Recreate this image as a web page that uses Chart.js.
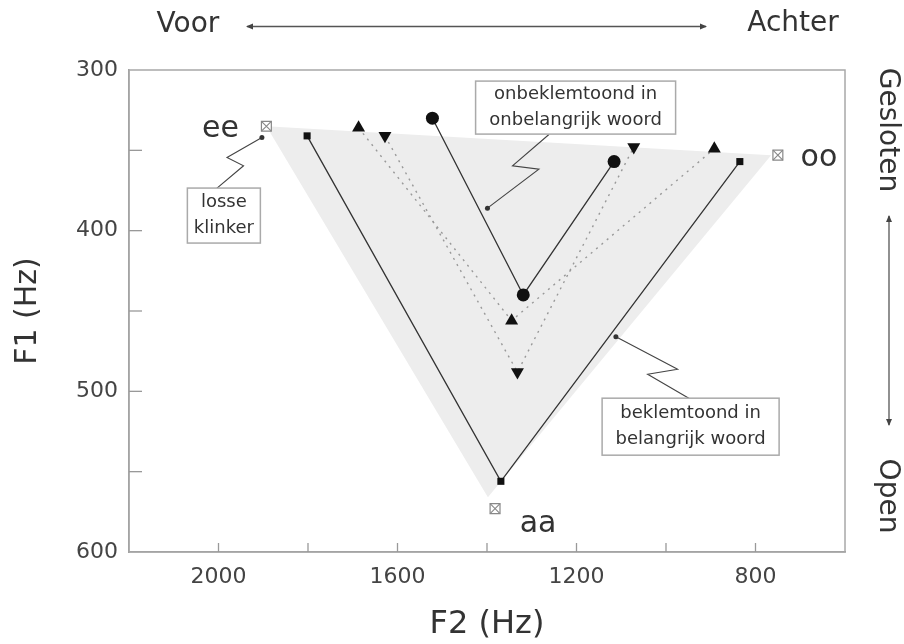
<!DOCTYPE html>
<html><head><meta charset="utf-8">
<script src="https://cdn.jsdelivr.net/npm/chart.js@4/dist/chart.umd.min.js"></script>
<style>html,body{margin:0;padding:0;background:#fff}#wrap{width:904px;height:644px;position:relative}</style>
</head><body><div id="wrap"><canvas id="c"></canvas></div>
<script>
// ---- data (F2 Hz, F1 Hz) in order ee, aa, oo ----
const vowels = ['ee', 'aa', 'oo'];
const f2Beklemtoond = [1802, 1369, 835];     // squares, solid
const f1Beklemtoond = [341, 556, 357];
const f2Onbeklemtoond = [1522, 1319, 1116];  // circles, solid
const f1Onbeklemtoond = [330, 440, 357];
const f2TussenA = [1687, 1345, 892];         // up triangles, dotted
const f1TussenA = [336, 456, 349];
const f2TussenB = [1628, 1332, 1072];        // down triangles, dotted
const f1TussenB = [341, 488, 348];
const f2Losse = [1893, 1382, 750];           // isolated vowels (boxed X)
const f1Losse = [335, 573, 353];
const f2Shade = [1893, 765, 1398];           // grey vowel triangle
const f1Shade = [335, 353, 566];
const xTickLabels = [2000, 1600, 1200, 800];
const yTickLabels = [300, 400, 500, 600];

const pts = (a, b) => a.map((v, i) => ({x: v, y: b[i]}));
const FONT = 'DejaVu Sans';

const callouts = [
  {lines: ['losse', 'klinker'], box: [1988, 390.6], w: 73, h: 55,
   path: [[2004, 373.7], [1944, 359.6], [1981, 354.4], [1903, 342]]},
  {lines: ['onbeklemtoond in', 'onbelangrijk woord'], box: [1202, 323.4], w: 200, h: 53,
   path: [[1261, 340], [1343, 359.6], [1284, 361.7], [1399, 386]]},
  {lines: ['beklemtoond in', 'belangrijk woord'], box: [945, 522], w: 177, h: 57,
   path: [[948, 504.4], [1041, 489.4], [974, 486.3], [1112, 466]]}
];
const vowelLabelOffsets = [[-46, 0], [43, 13], [41, 0]];

function arrowHead(ctx, x, y, ang) {
  ctx.save(); ctx.translate(x, y); ctx.rotate(ang);
  ctx.beginPath(); ctx.moveTo(0, 0); ctx.lineTo(-7, -3); ctx.lineTo(-7, 3); ctx.closePath(); ctx.fill();
  ctx.restore();
}

const deco = {
  id: 'deco',
  afterDraw(chart) {
    const {ctx, chartArea: a, scales: {x, y}} = chart;
    const P = (f2, f1) => [x.getPixelForValue(f2), y.getPixelForValue(f1)];
    ctx.save();
    // frame
    ctx.strokeStyle = '#a8a8a8'; ctx.lineWidth = 1.5;
    ctx.strokeRect(a.left, a.top, a.right - a.left, a.bottom - a.top);
    // inward ticks
    ctx.strokeStyle = '#999'; ctx.lineWidth = 1.3;
    x.ticks.forEach(t => {
      if (t.value === x.min || t.value === x.max) return;
      const px = x.getPixelForValue(t.value);
      ctx.beginPath(); ctx.moveTo(px, a.bottom); ctx.lineTo(px, a.bottom - 9); ctx.stroke();
    });
    y.ticks.forEach(t => {
      if (t.value === y.min || t.value === y.max) return;
      const py = y.getPixelForValue(t.value);
      ctx.beginPath(); ctx.moveTo(a.left, py); ctx.lineTo(a.left + 13, py); ctx.stroke();
    });
    // vowel labels
    ctx.fillStyle = '#333'; ctx.font = '30px "' + FONT + '"';
    ctx.textAlign = 'center'; ctx.textBaseline = 'middle';
    vowels.forEach((v, i) => {
      const [px, py] = P(f2Losse[i], f1Losse[i]);
      ctx.fillText(v, px + vowelLabelOffsets[i][0], py + vowelLabelOffsets[i][1] + 3);
    });
    // callouts
    callouts.forEach(c => {
      ctx.strokeStyle = '#444'; ctx.lineWidth = 1.1; ctx.fillStyle = '#333';
      ctx.beginPath();
      c.path.forEach((p, i) => { const [px, py] = P(p[0], p[1]); i ? ctx.lineTo(px, py) : ctx.moveTo(px, py); });
      ctx.stroke();
      const [ex, ey] = P(c.path[c.path.length - 1][0], c.path[c.path.length - 1][1]);
      ctx.beginPath(); ctx.arc(ex, ey, 2.5, 0, Math.PI * 2); ctx.fill();
      const [bx, by] = P(c.box[0], c.box[1]);
      ctx.fillStyle = '#fff'; ctx.fillRect(bx - c.w / 2, by - c.h / 2, c.w, c.h);
      ctx.strokeStyle = '#aaa'; ctx.lineWidth = 1.5;
      ctx.strokeRect(bx - c.w / 2, by - c.h / 2, c.w, c.h);
      ctx.fillStyle = '#333'; ctx.font = '18px "' + FONT + '"';
      ctx.fillText(c.lines[0], bx, by - 13);
      ctx.fillText(c.lines[1], bx, by + 13);
    });
    // top: Voor <-> Achter
    ctx.fillStyle = '#333'; ctx.strokeStyle = '#555'; ctx.lineWidth = 1.3;
    ctx.font = '28px "' + FONT + '"';
    ctx.fillText('Voor', 188, 25);
    ctx.fillText('Achter', 793, 24);
    ctx.beginPath(); ctx.moveTo(247, 26.5); ctx.lineTo(706, 26.5); ctx.stroke();
    ctx.fillStyle = '#444';
    arrowHead(ctx, 246, 26.5, Math.PI); arrowHead(ctx, 707, 26.5, 0);
    // right: Gesloten <-> Open
    ctx.beginPath(); ctx.moveTo(889, 216); ctx.lineTo(889, 425); ctx.stroke();
    arrowHead(ctx, 889, 215, -Math.PI / 2); arrowHead(ctx, 889, 426, Math.PI / 2);
    ctx.fillStyle = '#333';
    [['Gesloten', 130], ['Open', 496]].forEach(([t, cy]) => {
      ctx.save(); ctx.translate(887, cy); ctx.rotate(Math.PI / 2);
      ctx.fillText(t, 0, 0); ctx.restore();
    });
    ctx.restore();
  }
};

new Chart(document.getElementById('c'), {
  type: 'scatter',
  data: {
    datasets: [
      {label: 'losse klinker x', data: pts(f2Losse, f1Losse), showLine: false,
       pointStyle: 'crossRot', pointRadius: 7, borderColor: '#888', pointBorderColor: '#888', pointBorderWidth: 1.1},
      {label: 'losse klinker', data: pts(f2Losse, f1Losse), showLine: false,
       pointStyle: 'rect', pointRadius: 7, backgroundColor: '#fff', borderColor: '#888', pointBorderColor: '#888', pointBorderWidth: 1.2},
      {label: 'beklemtoond in belangrijk woord', data: pts(f2Beklemtoond, f1Beklemtoond), showLine: true,
       borderColor: '#333', borderWidth: 1.3, pointStyle: 'rect', pointRadius: 5,
       backgroundColor: '#111', pointBorderColor: '#111', pointBorderWidth: 0},
      {label: 'onbeklemtoond in onbelangrijk woord', data: pts(f2Onbeklemtoond, f1Onbeklemtoond), showLine: true,
       borderColor: '#333', borderWidth: 1.3, pointStyle: 'circle', pointRadius: 6.5,
       backgroundColor: '#111', pointBorderColor: '#111', pointBorderWidth: 0},
      {label: 'tussenvorm A', data: pts(f2TussenA, f1TussenA), showLine: true,
       borderColor: '#999', borderWidth: 1.4, borderDash: [2, 5], pointStyle: 'triangle', pointRadius: 7.5,
       backgroundColor: '#111', pointBorderColor: '#111', pointBorderWidth: 0},
      {label: 'tussenvorm B', data: pts(f2TussenB, f1TussenB), showLine: true,
       borderColor: '#999', borderWidth: 1.4, borderDash: [2, 5], pointStyle: 'triangle', pointRotation: 180, pointRadius: 7.5,
       backgroundColor: '#111', pointBorderColor: '#111', pointBorderWidth: 0},
      {label: 'vocaaldriehoek', data: pts(f2Shade, f1Shade).concat(pts(f2Shade, f1Shade).slice(0, 1)),
       showLine: true, fill: 'shape', backgroundColor: '#ededed', borderWidth: 0, pointRadius: 0, order: 10}
    ]
  },
  options: {
    responsive: true, maintainAspectRatio: false, animation: false, events: [],
    layout: {padding: {top: 70, right: 59, bottom: 0, left: 0}},
    plugins: {legend: {display: false}, tooltip: {enabled: false}},
    scales: {
      x: {
        type: 'linear', reverse: true, min: 600, max: 2200,
        afterFit(s) { s.height = 92; },
        grid: {display: false, drawTicks: false},
        border: {display: true, color: '#999', width: 1.5},
        ticks: {stepSize: 200, autoSkip: false, maxRotation: 0, padding: 12, color: '#444',
          font: {family: FONT, size: 22},
          callback: v => xTickLabels.includes(v) ? String(v) : ''},
        title: {display: true, text: 'F2 (Hz)', color: '#333', font: {family: FONT, size: 32},
          padding: {top: 0, bottom: 0}}
      },
      y: {
        type: 'linear', reverse: true, min: 300, max: 600,
        afterFit(s) { s.width = 129; },
        grid: {display: false, drawTicks: false},
        border: {display: true, color: '#999', width: 1.5},
        ticks: {stepSize: 50, autoSkip: false, padding: 11, color: '#444',
          font: {family: FONT, size: 22},
          callback: v => yTickLabels.includes(v) ? String(v) : ''},
        title: {display: true, text: 'F1 (Hz)', color: '#333', font: {family: FONT, size: 30},
          padding: {top: 10, bottom: 0}}
      }
    }
  },
  plugins: [deco]
});
</script></body></html>
